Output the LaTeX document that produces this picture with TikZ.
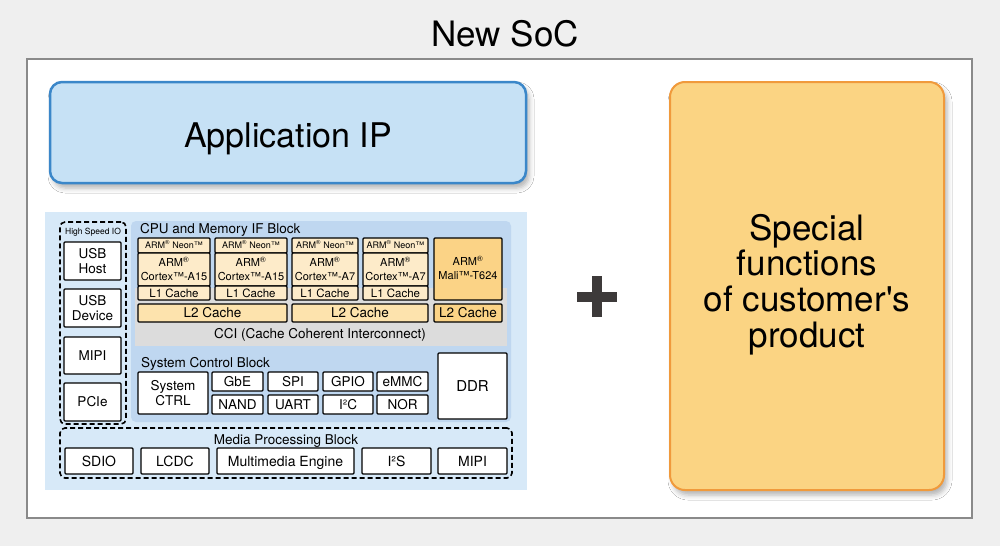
\documentclass[tikz,border=0pt]{standalone}
\usepackage{fontspec}
\setmainfont{TeX Gyre Heros}
\usetikzlibrary{shadows.blur}
\definecolor{bgc}{HTML}{EFEFEF}
\definecolor{outerdraw}{HTML}{8A8A8A}
\definecolor{appfill}{HTML}{C6E1F5}
\definecolor{appdraw}{HTML}{3B87C9}
\definecolor{orfill}{HTML}{FBD483}
\definecolor{ordraw}{HTML}{F09A3C}
\definecolor{lbfill}{HTML}{D7E9F8}
\definecolor{cpufill}{HTML}{BFD7F0}
\definecolor{ccifill}{HTML}{DCDCDC}
\definecolor{corefill}{HTML}{FDEBC9}
\definecolor{ltwofill}{HTML}{FDE3AD}
\definecolor{malifill}{HTML}{FBD386}
\definecolor{plusc}{HTML}{3D3A3A}
\newcommand\bnode[7][]{%
  \pgfmathsetmacro\bnCX{(#3+#5)/2}%
  \pgfmathsetmacro\bnCY{(#4+#6)/2}%
  \pgfmathsetmacro\bnW{#5-#3}%
  \pgfmathsetmacro\bnH{#6-#4}%
  \node[inner sep=0pt, outer sep=0pt, minimum width=\bnW pt, minimum height=\bnH pt, #1] (#2) at (\bnCX,\bnCY) {#7};}
\tikzset{
  wbox/.style={draw=black, line width=1.2pt, fill=white, rounded corners=1pt, align=center},
  corebox/.style={wbox, fill=corefill},
  ltwobox/.style={wbox, fill=ltwofill},
  malibox/.style={wbox, fill=malifill},
  dashbox/.style={draw=black, line width=1.6pt, dash pattern=on 5pt off 3pt, rounded corners=5pt},
  fnine/.style={font=\fontsize{9}{10}\selectfont, text height=6.5pt, text depth=0pt},
  feleven/.style={font=\fontsize{11}{14}\selectfont, text height=7.9pt, text depth=0pt},
  felevtwo/.style={feleven, text height=21.9pt},
  fLone/.style={font=\fontsize{11.5}{13}\selectfont, text height=8.3pt, text depth=0pt},
  fthirt/.style={font=\fontsize{13.5}{15}\selectfont, text height=9.7pt, text depth=0pt},
  fthirttwo/.style={fthirt, text height=24.7pt},
  ffourt/.style={font=\fontsize{14}{16}\selectfont, text height=10.1pt, text depth=0pt},
  ffift/.style={font=\fontsize{15}{17}\selectfont, text height=10.8pt, text depth=0pt},
  lab/.style={font=\fontsize{13.5}{15}\selectfont, inner sep=0pt},
  bigshadow/.style={blur shadow={shadow xshift=3pt, shadow yshift=-5pt, shadow blur radius=5pt, shadow opacity=30}},
}
\begin{document}
\begin{tikzpicture}[x=1pt,y=-1pt]
\fill[bgc] (0,0) rectangle (1000,546);
\useasboundingbox (0,0) rectangle (1000,546);

\node[font=\fontsize{35}{40}\selectfont, anchor=base, inner sep=0pt] (title) at (505,46) {New SoC};

\bnode[draw=outerdraw, fill=white, line width=2pt]{outer}{27}{59}{972}{518}{}

\bnode[draw=appdraw, fill=appfill, line width=2.5pt, rounded corners=12pt, bigshadow,
  font=\fontsize{34}{40}\selectfont, text height=29pt, text depth=0pt]{app}{50}{82}{526}{183}{Application IP}

\bnode[draw=ordraw, fill=orfill, line width=2pt, rounded corners=15pt, bigshadow, align=center,
  font=\fontsize{35}{35.7}\selectfont, text height=132.3pt, text depth=10pt]{spec}{670}{82}{944}{490}{Special\\functions\\of customer\textquotesingle s\\product}

\fill[plusc] (577,292) rectangle (617,302);
\fill[plusc] (592,276) rectangle (602,317);

\bnode[fill=lbfill]{soc}{45}{212}{527}{490}{}

% High speed IO
\bnode[dashbox]{hsio}{60}{222}{126}{424}{}
\node[font=\fontsize{8.5}{10}\selectfont, anchor=base, inner sep=0pt] (hsiot) at (93,234) {High Speed IO};
\bnode[wbox, fthirttwo]{usbh}{64}{242}{121}{280}{USB\\Host}
\bnode[wbox, fthirttwo]{usbd}{64}{289}{121}{327}{USB\\Device}
\bnode[wbox, fthirt]{mipia}{64}{337}{121}{374}{MIPI}
\bnode[wbox, fthirt]{pcie}{64}{383}{121}{421}{PCIe}

% CPU and memory IF block
\bnode[fill=cpufill, rounded corners=5pt]{cpu}{131}{221}{511}{422}{}
\node[lab, anchor=base west] (cput) at (140,233.5) {CPU and Memory IF Block};
\bnode[fill=ccifill]{cci}{135}{288}{507}{346}{}
\node[lab, anchor=base] (ccit) at (320,338) {CCI (Cache Coherent Interconnect)};

\bnode[corebox, fnine]{neona}{138}{238}{210}{253}{ARM\textsuperscript{®} Neon™}
\bnode[corebox, felevtwo]{corea}{138}{253}{210}{286}{ARM\textsuperscript{®}\\Cortex™-A15}
\bnode[corebox, fLone]{lonea}{138}{286}{210}{300}{L1 Cache}
\bnode[corebox, fnine]{neonb}{215}{238}{287}{253}{ARM\textsuperscript{®} Neon™}
\bnode[corebox, felevtwo]{coreb}{215}{253}{287}{286}{ARM\textsuperscript{®}\\Cortex™-A15}
\bnode[corebox, fLone]{loneb}{215}{286}{287}{300}{L1 Cache}
\bnode[corebox, fnine]{neonc}{292}{238}{358}{253}{ARM\textsuperscript{®} Neon™}
\bnode[corebox, felevtwo]{corec}{292}{253}{358}{286}{ARM\textsuperscript{®}\\Cortex™-A7}
\bnode[corebox, fLone]{lonec}{292}{286}{358}{300}{L1 Cache}
\bnode[corebox, fnine]{neond}{363}{238}{428}{253}{ARM\textsuperscript{®} Neon™}
\bnode[corebox, felevtwo]{cored}{363}{253}{428}{286}{ARM\textsuperscript{®}\\Cortex™-A7}
\bnode[corebox, fLone]{loned}{363}{286}{428}{300}{L1 Cache}
\bnode[malibox, felevtwo]{mali}{434}{238}{502}{300}{ARM\textsuperscript{®}\\Mali™-T624}

\bnode[ltwobox, fthirt]{ltwoa}{138}{304}{287}{322}{L2 Cache}
\bnode[ltwobox, fthirt]{ltwob}{292}{304}{428}{322}{L2 Cache}
\bnode[malibox, fthirt]{ltwoc}{434}{304}{502}{322}{L2 Cache}

% System control block
\node[lab, anchor=base west] (sysct) at (141,367) {System Control Block};
\bnode[wbox, fthirttwo]{sysc}{138}{372}{208}{414}{System\\CTRL}
\bnode[wbox, fthirt]{gbe}{212}{372}{263}{391}{GbE}
\bnode[wbox, fthirt]{nand}{212}{395}{263}{414}{NAND}
\bnode[wbox, fthirt]{spi}{268}{372}{318}{391}{SPI}
\bnode[wbox, fthirt]{uart}{268}{395}{318}{414}{UART}
\bnode[wbox, fthirt]{gpio}{323}{372}{373}{391}{GPIO}
\bnode[wbox, fthirt]{itc}{323}{395}{373}{414}{I²C}
\bnode[wbox, fthirt]{emmc}{377}{372}{428}{391}{eMMC}
\bnode[wbox, fthirt]{nor}{377}{395}{428}{414}{NOR}
\bnode[wbox, ffift]{ddr}{438}{353}{507}{419}{DDR}

% Media processing block
\bnode[dashbox]{media}{60}{428}{512}{478}{}
\node[lab, anchor=base] (mediat) at (286,444) {Media Processing Block};
\bnode[wbox, ffourt]{sdio}{65}{448}{133}{474}{SDIO}
\bnode[wbox, ffourt]{lcdc}{141}{448}{209}{474}{LCDC}
\bnode[wbox, ffourt]{mme}{217}{448}{354}{474}{Multimedia Engine}
\bnode[wbox, ffourt]{its}{362}{448}{431}{474}{I²S}
\bnode[wbox, ffourt]{mipib}{438}{448}{507}{474}{MIPI}
\end{tikzpicture}
\end{document}
